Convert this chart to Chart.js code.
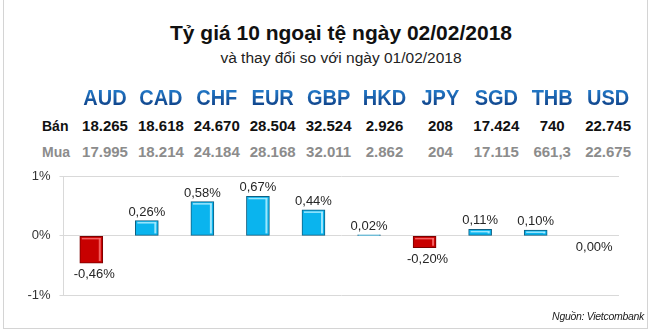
<!DOCTYPE html>
<html>
<head>
<meta charset="utf-8">
<script src="https://cdn.jsdelivr.net/npm/chart.js@4.4.1/dist/chart.umd.min.js"></script>
<style>
    html, body { margin: 0; padding: 0; background: #fff; }
    body { width: 650px; height: 330px; position: relative; overflow: hidden; font-family: "Liberation Sans", Arial, sans-serif; }
    #frame { position: absolute; left: 3px; top: -2px; width: 643px; height: 329px; border: 1px solid #d4d4d4; }
    #title { position: absolute; left: 0; width: 682px; top: 21px; text-align: center; font-size: 21px; font-weight: bold; color: #111; line-height: 24px; }
    #subtitle { position: absolute; left: 0; width: 682px; top: 49px; text-align: center; font-size: 15.5px; color: #222; line-height: 18px; }
    .row { position: absolute; left: 0; width: 650px; height: 24px; line-height: 24px; font-weight: bold; }
    .row .lbl { position: absolute; left: 42px; font-size: 14px; }
    .row .cell { position: absolute; width: 56px; text-align: center; }
    #codes .cell { font-size: 20px; background: linear-gradient(#2a8ee0, #0a3478); -webkit-background-clip: text; background-clip: text; color: transparent; transform: scaleY(1.08); }
    #sell { color: #111; font-size: 15px; }
    #buy { color: #8c8c8c; font-size: 15px; }
    #chartBox { position: absolute; left: 0; top: 160px; width: 650px; height: 170px; }
    #source { position: absolute; right: 6px; top: 310px; font-size: 10.5px; letter-spacing: -0.3px; font-style: italic; color: #222; }
</style>
</head>
<body>
<div id="frame"></div>
<div id="title">Tỷ giá 10 ngoại tệ ngày 02/02/2018</div>
<div id="subtitle">và thay đổi so với ngày 01/02/2018</div>
<div class="row" id="codes" style="top:85px"></div>
<div class="row" id="sell" style="top:114px"><span class="lbl">Bán</span></div>
<div class="row" id="buy" style="top:140px"><span class="lbl">Mua</span></div>
<div id="chartBox"><canvas id="chartCanvas"></canvas></div>
<div id="source">Nguồn: Vietcombank</div>
<script>
const currencies = ["AUD", "CAD", "CHF", "EUR", "GBP", "HKD", "JPY", "SGD", "THB", "USD"];
const sellRates = ["18.265", "18.618", "24.670", "28.504", "32.524", "2.926", "208", "17.424", "740", "22.745"];
const buyRates = ["17.995", "18.214", "24.184", "28.168", "32.011", "2.862", "204", "17.115", "661,3", "22.675"];
const changes = [-0.46, 0.26, 0.58, 0.67, 0.44, 0.02, -0.20, 0.11, 0.10, 0.00];
const yTicks = [-1, 0, 1];

// bảng tỷ giá phía trên biểu đồ
function fillRow(id, values) {
    const row = document.getElementById(id);
    values.forEach((v, i) => {
        const cell = document.createElement("span");
        cell.className = "cell";
        cell.style.left = (77 + i * 55.9) + "px";
        cell.textContent = v;
        row.appendChild(cell);
    });
}
fillRow("codes", currencies);
fillRow("sell", sellRates);
fillRow("buy", buyRates);

const fmt = v => v.toFixed(2).replace(".", ",") + "%";

const barLabels = {
    id: "barLabels",
    afterDatasetsDraw(chart) {
        const ctx = chart.ctx;
        const meta = chart.getDatasetMeta(0);
        ctx.save();
        meta.data.forEach((bar, i) => {
            const v = changes[i];
            const left = bar.x - bar.width / 2;
            const top = Math.min(bar.y, bar.base);
            const h = Math.abs(bar.base - bar.y);
            // hiệu ứng nổi nhẹ
            if (h > 3) {
                ctx.fillStyle = v > 0 ? "rgba(170,235,255,0.9)" : "rgba(255,120,120,0.8)";
                ctx.fillRect(left + bar.width - 4, top + 2, 2, h - 4);
                ctx.fillRect(left + 2, top + 1.5, bar.width - 4, 1.5);
            }
            ctx.font = "13px 'Liberation Sans', Arial, sans-serif";
            ctx.fillStyle = "#262626";
            ctx.textAlign = "center";
            if (v > 0) {
                ctx.textBaseline = "bottom";
                ctx.fillText(fmt(v), bar.x, top - 2);
            } else {
                ctx.textBaseline = "top";
                ctx.fillText(fmt(v), bar.x + 3, top + h + 5);
            }
        });
        ctx.restore();
    }
};

const ctx = document.getElementById("chartCanvas").getContext("2d");
new Chart(ctx, {
    type: "bar",
    data: {
        labels: currencies,
        datasets: [{
            data: changes,
            backgroundColor: changes.map(v => v < 0 ? "#c80000" : "#0ab4ee"),
            borderColor: changes.map(v => v < 0 ? "#7a0000" : "#0d5f82"),
            borderWidth: 1,
            borderSkipped: false,
            barThickness: 23
        }]
    },
    options: {
        responsive: true,
        maintainAspectRatio: false,
        animation: false,
        layout: { padding: { top: 15, bottom: 35, right: 31, left: 0 } },
        plugins: {
            legend: { display: false },
            tooltip: { enabled: false }
        },
        scales: {
            x: { display: false, offset: true },
            y: {
                min: -1,
                max: 1,
                afterFit(scale) { scale.width = 63.5; },
                afterBuildTicks(scale) { scale.ticks = yTicks.map(v => ({ value: v })); },
                grid: { color: "#d9d9d9", tickLength: 4, drawTicks: true },
                border: { display: true, color: "#d9d9d9" },
                ticks: {
                    padding: 9,
                    color: "#333",
                    font: { family: "'Liberation Sans', Arial, sans-serif", size: 13 },
                    callback: v => v + "%"
                }
            }
        }
    },
    plugins: [barLabels]
});
</script>
</body>
</html>
